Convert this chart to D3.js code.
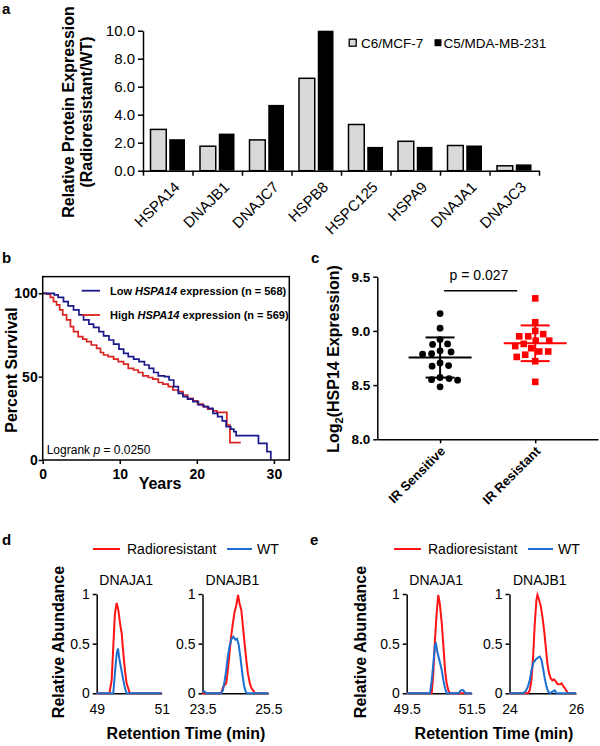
<!DOCTYPE html>
<html>
<head>
<meta charset="utf-8">
<script src="https://cdn.jsdelivr.net/npm/d3@7"></script>
<style>
body { margin: 0; background: #fff; }
svg { display: block; font-family: "Liberation Sans", Arial, sans-serif; }
</style>
</head>
<body>
<svg id="fig" width="600" height="746"></svg>
<script>
// ---------- panel a: relative protein expression
var genes = ["HSPA14", "DNAJB1", "DNAJC7", "HSPB8", "HSPC125", "HSPA9", "DNAJA1", "DNAJC3"];
var mcf7 = [2.95, 1.75, 2.2, 6.6, 3.3, 2.1, 1.8, 0.35];
var mda = [2.25, 2.65, 4.7, 10.0, 1.7, 1.7, 1.8, 0.45];
var aTicks = [0, 2, 4, 6, 8, 10];

// ---------- panel b: survival (year, percent)
var lowKM = [[0,100],[1.0,100],[1.5,99],[2.0,97.5],[2.7,95],[3.3,92.5],[4.0,90],[4.7,87],[5.3,84],[6.0,81.5],
  [6.6,79.5],[7.3,77],[7.9,74.5],[8.6,72],[9.2,69.5],[9.9,66.5],[10.5,64],[11.1,62],[11.8,60.5],[12.5,59],
  [13.2,57],[13.8,55],[14.4,52.5],[15.0,50.5],[15.8,50],[16.4,48],[17.0,44],[17.6,40],[18.2,38],[18.8,36.5],
  [19.5,35],[20.2,33],[20.9,32],[21.5,31],[22.1,28],[22.7,26],[23.3,23.5],[23.8,20],[24.4,18.5],[24.8,17],
  [25.1,14.6],[28.0,10],[29.1,5],[29.6,0]];
var highKM = [[0,100],[0.5,99.5],[1.0,97.5],[1.4,95],[1.8,93],[2.2,90],[2.6,87],[3.1,84],[3.6,80],[4.0,77],
  [4.6,74],[5.2,72.5],[5.7,71],[6.3,69],[7.0,67],[7.5,64.5],[7.9,63],[8.5,62],[9.2,60.5],[9.8,59],[10.5,57.5],
  [11.1,55],[11.8,54],[12.4,52.5],[13.0,50.5],[13.7,49.5],[14.3,48.5],[15.0,46.5],[15.6,45.5],[16.3,44],
  [16.9,42],[17.6,41],[18.2,39],[18.8,37],[19.5,35.5],[20.1,33.5],[20.8,32],[21.4,30.5],[22.1,29.5],
  [22.6,28.6],[23.9,21],[24.3,10.4],[25.7,10.4]];
var bXTicks = [0, 10, 20, 30];
var bYTicks = [0, 50, 100];

// ---------- panel c: log2 HSP14 expression
var groups = ["IR Sensitive", "IR Resistant"];
var sensitive = [9.16, 9.025, 8.92, 8.88, 8.875, 8.816, 8.806, 8.79, 8.785, 8.705, 8.68, 8.675, 8.57, 8.56, 8.55, 8.545, 8.484];
var resistant = [9.30, 9.08, 9.00, 8.95, 8.97, 8.95, 8.91, 8.91, 8.88, 8.86, 8.84, 8.81, 8.81, 8.78, 8.76, 8.72, 8.53];
var cTicks = [8.0, 8.5, 9.0, 9.5];

// ---------- panels d, e: chromatogram traces (min, relative abundance)
var dA1Red = [[49,0],[49.39,0],[49.46,0.13],[49.51,0.47],[49.56,0.8],[49.615,0.91],[49.665,0.84],[49.72,0.70],
  [49.77,0.6],[49.82,0.4],[49.87,0.23],[49.92,0.1],[49.97,0.05],[50.02,0],[51,0]];
var dA1Blue = [[49,0],[49.51,0],[49.56,0.2],[49.615,0.4],[49.655,0.45],[49.7,0.34],[49.74,0.27],[49.78,0.2],
  [49.82,0.13],[49.87,0.05],[49.92,0],[51,0]];
var dB1Red = [[23.5,0],[24.07,0],[24.12,0.06],[24.22,0.1],[24.27,0.23],[24.32,0.4],[24.37,0.57],[24.42,0.7],
  [24.475,0.82],[24.53,0.89],[24.58,0.99],[24.63,0.9],[24.68,0.84],[24.73,0.67],[24.78,0.5],[24.83,0.34],
  [24.88,0.2],[24.94,0.1],[24.99,0.05],[25.04,0.03],[25.09,0],[25.5,0]];
var dB1Blue = [[23.5,0.02],[23.55,0.02],[23.62,0],[24.07,0],[24.12,0.03],[24.17,0.12],[24.22,0.23],[24.27,0.37],
  [24.32,0.47],[24.37,0.54],[24.44,0.57],[24.5,0.54],[24.55,0.55],[24.6,0.49],[24.65,0.37],[24.71,0.2],
  [24.76,0.08],[24.81,0.02],[24.85,0],[25.5,0]];
var eA1Red = [[49.5,0],[50.27,0],[50.32,0.2],[50.37,0.54],[50.42,0.8],[50.47,0.99],[50.52,0.9],[50.58,0.7],
  [50.63,0.47],[50.68,0.23],[50.73,0.1],[50.78,0.03],[50.83,0],[51.5,0]];
var eA1Blue = [[49.5,0],[50.217,0],[50.27,0.13],[50.32,0.3],[50.37,0.49],[50.40,0.5],[50.44,0.42],[50.50,0.34],
  [50.58,0.23],[50.63,0.13],[50.68,0.05],[50.73,0],[51.09,0],[51.17,0.03],[51.24,0.03],[51.31,0],[51.5,0]];
var eB1Red = [[24,0],[24.555,0],[24.61,0.03],[24.66,0.13],[24.71,0.37],[24.76,0.7],[24.81,0.94],[24.84,0.99],
  [24.89,0.94],[24.94,0.88],[24.99,0.77],[25.04,0.64],[25.09,0.47],[25.14,0.3],[25.19,0.2],[25.24,0.15],
  [25.29,0.13],[25.34,0.14],[25.39,0.12],[25.45,0.09],[25.52,0.09],[25.57,0.1],[25.62,0.07],[25.67,0.05],
  [25.72,0.02],[25.77,0],[26,0]];
var eB1Blue = [[24,0],[24.40,0],[24.485,0.02],[24.555,0.07],[24.61,0.13],[24.66,0.23],[24.71,0.3],[24.79,0.34],
  [24.86,0.36],[24.91,0.37],[24.96,0.34],[25.01,0.25],[25.06,0.15],[25.11,0.07],[25.16,0.02],[25.21,0],
  [25.31,0.02],[25.36,0.03],[25.41,0],[26,0]];
var abTicks = [0, 0.5, 1];

var FONT = '"Liberation Sans", Arial, sans-serif';
var svg = d3.select("#fig");

function styleAxis(g, size, weight) {
  g.attr("font-family", FONT);
  g.selectAll("path, line").attr("stroke", "#000").attr("stroke-width", 1.5);
  g.selectAll("text").attr("font-size", size).attr("font-weight", weight).attr("fill", "#000");
}

function label(g, txt, x, y, opts) {
  opts = opts || {};
  var t = g.append("text")
    .attr("transform", "translate(" + x + "," + y + ")" + (opts.rot ? " rotate(" + opts.rot + ")" : ""))
    .attr("text-anchor", opts.anchor || "start")
    .attr("font-size", opts.size || 13)
    .attr("font-weight", opts.weight || "normal")
    .attr("fill", opts.fill || "#000");
  if (txt != null) t.text(txt);
  return t;
}

// panel letters
[["a", 2, 14], ["b", 2, 263], ["c", 311, 263], ["d", 2, 545], ["e", 310, 545]].forEach(function(p) {
  label(svg, p[0], p[1], p[2], {size: 15, weight: "bold"});
});

// ================= panel a =================
(function() {
  var g = svg.append("g");
  var y = d3.scaleLinear().domain([0, 10]).range([170.7, 30.7]);
  var x = d3.scaleBand().domain(genes).range([143, 539]);
  var sub = d3.scaleBand().domain(["mcf7", "mda"]).range([0, x.bandwidth()]).paddingInner(0.16).paddingOuter(0.4);
  var xt = d3.scaleLinear().domain([0, genes.length]).range(x.range());
  var rows = genes.map(function(d, i) { return {gene: d, mcf7: mcf7[i], mda: mda[i]}; });

  g.selectAll(".b1").data(rows).join("rect")
    .attr("x", function(d) { return x(d.gene) + sub("mcf7"); })
    .attr("y", function(d) { return y(d.mcf7); })
    .attr("width", sub.bandwidth())
    .attr("height", function(d) { return y(0) - y(d.mcf7); })
    .attr("fill", "#d9d9d9").attr("stroke", "#000").attr("stroke-width", 1.5);
  g.selectAll(".b2").data(rows).join("rect")
    .attr("x", function(d) { return x(d.gene) + sub("mda"); })
    .attr("y", function(d) { return y(d.mda); })
    .attr("width", sub.bandwidth())
    .attr("height", function(d) { return y(0) - y(d.mda); })
    .attr("fill", "#000");

  var ya = g.append("g").attr("transform", "translate(143,0)")
    .call(d3.axisLeft(y).tickValues(aTicks).tickFormat(d3.format(".1f")).tickSize(5).tickSizeOuter(0).tickPadding(3));
  styleAxis(ya, 15, "normal");
  var xa = g.append("g").attr("transform", "translate(0," + y(0) + ")")
    .call(d3.axisBottom(xt).tickValues(d3.range(genes.length + 1)).tickFormat("").tickSize(5).tickSizeOuter(0));
  styleAxis(xa, 13, "normal");

  g.selectAll(".gl").data(genes).join("text")
    .attr("transform", function(d) { return "translate(" + (x(d) + x.bandwidth() / 2 + 13) + ",188) rotate(-45)"; })
    .attr("text-anchor", "end").attr("font-size", 15).text(function(d) { return d; });

  label(g, "Relative Protein Expression", 74, 112, {rot: -90, anchor: "middle", size: 16, weight: "bold"});
  label(g, "(Radioresistant/WT)", 92, 112, {rot: -90, anchor: "middle", size: 16, weight: "bold"});

  g.append("rect").attr("x", 349.2).attr("y", 39.2).attr("width", 7).attr("height", 7)
    .attr("fill", "#d9d9d9").attr("stroke", "#000").attr("stroke-width", 1.3);
  label(g, "C6/MCF-7", 361, 48, {size: 13.5});
  g.append("rect").attr("x", 434.5).attr("y", 39.2).attr("width", 7).attr("height", 7).attr("fill", "#000");
  label(g, "C5/MDA-MB-231", 443.5, 48, {size: 13.5});
})();

// ================= panel b =================
(function() {
  var g = svg.append("g");
  var x = d3.scaleLinear().domain([0, 32]).range([42.7, 289.3]);
  var y = d3.scaleLinear().domain([0, 100]).range([460, 293.3]);
  var blue = "#1b1a8c", red = "#d8231f";

  var line = d3.line().x(function(d) { return x(d[0]); }).y(function(d) { return y(d[1]); }).curve(d3.curveStepAfter);
  g.append("path").datum(highKM).attr("d", line).attr("fill", "none").attr("stroke", red).attr("stroke-width", 1.7);
  g.append("path").datum(lowKM).attr("d", line).attr("fill", "none").attr("stroke", blue).attr("stroke-width", 1.7);

  g.append("rect").attr("x", x(0)).attr("y", y(110)).attr("width", x(32) - x(0)).attr("height", y(0) - y(110))
    .attr("fill", "none").attr("stroke", "#000").attr("stroke-width", 1.5);

  var ya = g.append("g").attr("transform", "translate(" + x(0) + ",0)")
    .call(d3.axisLeft(y).tickValues(bYTicks).tickSize(4).tickSizeOuter(0).tickPadding(1));
  ya.select(".domain").remove();
  styleAxis(ya, 14, "bold");
  var xa = g.append("g").attr("transform", "translate(0," + y(0) + ")")
    .call(d3.axisBottom(x).tickValues(bXTicks).tickSize(4).tickSizeOuter(0).tickPadding(5));
  xa.select(".domain").remove();
  styleAxis(xa, 14, "bold");

  label(g, "Percent Survival", 16.5, 370, {rot: -90, anchor: "middle", size: 16, weight: "bold"});
  label(g, "Years", 160, 489, {anchor: "middle", size: 16, weight: "bold"});

  [[blue, 290.7, "Low ", " expression (n = 568)"], [red, 315, "High ", " expression (n = 569)"]].forEach(function(l) {
    g.append("line").attr("x1", 81.7).attr("x2", 100).attr("y1", l[1]).attr("y2", l[1])
      .attr("stroke", l[0]).attr("stroke-width", 1.8);
    var t = label(g, null, 110, l[1] + 4, {size: 11, weight: "bold"});
    t.append("tspan").text(l[2]);
    t.append("tspan").attr("font-style", "italic").text("HSPA14");
    t.append("tspan").text(l[3]);
  });

  var lr = label(g, null, 46.7, 454, {size: 12});
  lr.append("tspan").text("Logrank ");
  lr.append("tspan").attr("font-style", "italic").text("p");
  lr.append("tspan").text(" = 0.0250");
})();

// ================= panel c =================
(function() {
  var g = svg.append("g");
  var y = d3.scaleLinear().domain([8, 9.5]).range([439.3, 276.7]);
  var x = d3.scalePoint().domain(groups).range([377.3, 598]).padding(0.66);

  function swarm(values, cx, diam) {
    var placed = [];
    var order = values.map(function(v, i) { return i; }).sort(function(a, b) { return values[b] - values[a]; });
    order.forEach(function(i) {
      var py = y(values[i]), px = cx;
      for (var k = 0; k < 200; k++) {
        var off = (k % 2 ? 1 : -1) * Math.ceil(k / 2) * 0.5;
        var ok = placed.every(function(p) {
          var dx = p[0] - (cx + off), dy = p[1] - py;
          return dx * dx + dy * dy >= diam * diam;
        });
        if (ok) { px = cx + off; break; }
      }
      placed.push([px, py]);
    });
    return placed;
  }

  var blackPts = swarm(sensitive, x("IR Sensitive"), 8.6);
  var redPts = swarm(resistant, x("IR Resistant"), 8.6);

  g.selectAll(".dot").data(blackPts).join("circle")
    .attr("cx", function(d) { return d[0]; }).attr("cy", function(d) { return d[1]; })
    .attr("r", 3.4).attr("fill", "#000");
  g.selectAll(".sq").data(redPts).join("rect")
    .attr("x", function(d) { return d[0] - 3.3; }).attr("y", function(d) { return d[1] - 3.3; })
    .attr("width", 6.6).attr("height", 6.6).attr("fill", "#ff0000");

  [[sensitive, "IR Sensitive", "#000"], [resistant, "IR Resistant", "#ff0000"]].forEach(function(s) {
    var m = d3.mean(s[0]), sd = d3.deviation(s[0]), cx = x(s[1]);
    var lg = g.append("g").attr("stroke", s[2]).attr("stroke-width", 2);
    lg.append("line").attr("x1", cx - 31.5).attr("x2", cx + 31.5).attr("y1", y(m)).attr("y2", y(m));
    lg.append("line").attr("x1", cx - 14.5).attr("x2", cx + 14.5).attr("y1", y(m + sd)).attr("y2", y(m + sd));
    lg.append("line").attr("x1", cx - 14.5).attr("x2", cx + 14.5).attr("y1", y(m - sd)).attr("y2", y(m - sd));
    lg.append("line").attr("x1", cx).attr("x2", cx).attr("y1", y(m + sd)).attr("y2", y(m - sd));
  });

  var ya = g.append("g").attr("transform", "translate(377.3,0)")
    .call(d3.axisLeft(y).tickValues(cTicks).tickFormat(d3.format(".1f")).tickSize(4).tickSizeOuter(0).tickPadding(3));
  styleAxis(ya, 13.5, "bold");
  var xa = g.append("g").attr("transform", "translate(0," + y(8) + ")")
    .call(d3.axisBottom(x).tickFormat("").tickSize(4).tickSizeOuter(0));
  styleAxis(xa, 13, "bold");

  g.selectAll(".gl").data(groups).join("text")
    .attr("transform", function(d) { return "translate(" + (x(d) + 6) + ",452) rotate(-45)"; })
    .attr("text-anchor", "end").attr("font-size", 13).attr("font-weight", "bold").text(function(d) { return d; });

  var x1 = x("IR Sensitive") + 4, x2 = x("IR Resistant") - 18, py = y(9.37);
  g.append("line").attr("x1", x1).attr("x2", x2).attr("y1", py).attr("y2", py).attr("stroke", "#000").attr("stroke-width", 1.5);
  label(g, "p = 0.027", 479, 280, {anchor: "middle", size: 14});

  var t = label(g, null, 339, 359, {rot: -90, anchor: "middle", size: 16, weight: "bold"});
  t.append("tspan").text("Log");
  t.append("tspan").attr("font-size", 11).attr("dy", 4).text("2");
  t.append("tspan").attr("dy", -4).text("(HSP14 Expression)");
})();

// ================= panels d, e =================
var RED = "#ff1414", BLUE = "#1c6fd0";
var subplots = [
  {x0: 96.7, x1: 161.7, dom: [49, 51], title: "DNAJA1", red: dA1Red, blue: dA1Blue},
  {x0: 202.5, x1: 268.3, dom: [23.5, 25.5], title: "DNAJB1", red: dB1Red, blue: dB1Blue},
  {x0: 406.7, x1: 471.7, dom: [49.5, 51.5], title: "DNAJA1", red: eA1Red, blue: eA1Blue},
  {x0: 509.5, x1: 576, dom: [24, 26], title: "DNAJB1", red: eB1Red, blue: eB1Blue}
];
var abY = d3.scaleLinear().domain([0, 1]).range([693.3, 594]);
var plain = function(d) { return String(d); };

subplots.forEach(function(s) {
  var g = svg.append("g");
  var x = d3.scaleLinear().domain(s.dom).range([s.x0, s.x1]);
  var xa = g.append("g").attr("transform", "translate(0," + abY(0) + ")")
    .call(d3.axisBottom(x).tickValues(s.dom).tickFormat(plain).tickSize(0).tickSizeOuter(0).tickPadding(11));
  styleAxis(xa, 14, "normal");
  var ya = g.append("g").attr("transform", "translate(" + s.x0 + ",0)")
    .call(d3.axisLeft(abY).tickValues(abTicks).tickFormat(plain).tickSize(4).tickSizeOuter(0).tickPadding(3));
  styleAxis(ya, 14, "normal");
  var line = d3.line().x(function(d) { return x(d[0]); }).y(function(d) { return abY(d[1]); });
  g.append("path").datum(s.red).attr("d", line).attr("fill", "none").attr("stroke", RED).attr("stroke-width", 2);
  g.append("path").datum(s.blue).attr("d", line).attr("fill", "none").attr("stroke", BLUE).attr("stroke-width", 2);
  label(g, s.title, (s.x0 + s.x1) / 2 - 3, 585, {anchor: "middle", size: 14});
});

[[93, 64, 186], [394, 366, 494]].forEach(function(p) {
  var g = svg.append("g");
  var lx = p[0];
  g.append("line").attr("x1", lx).attr("x2", lx + 27).attr("y1", 549).attr("y2", 549).attr("stroke", RED).attr("stroke-width", 2);
  label(g, "Radioresistant", lx + 34, 554, {size: 14});
  g.append("line").attr("x1", lx + 134).attr("x2", lx + 159).attr("y1", 549).attr("y2", 549).attr("stroke", BLUE).attr("stroke-width", 2);
  label(g, "WT", lx + 164, 554, {size: 14});
  label(g, "Relative Abundance", p[1], 642, {rot: -90, anchor: "middle", size: 16, weight: "bold"});
  label(g, "Retention Time (min)", p[2], 739, {anchor: "middle", size: 16, weight: "bold"});
});
</script>
</body>
</html>
